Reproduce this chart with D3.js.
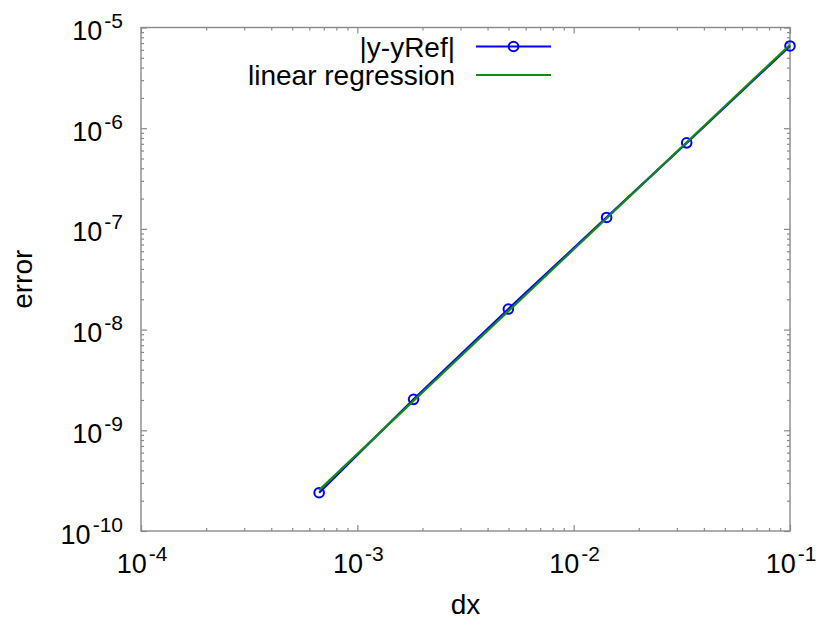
<!DOCTYPE html>
<html>
<head>
<meta charset="utf-8">
<script src="https://cdn.jsdelivr.net/npm/d3@7"></script>
<style>
  html, body { margin: 0; padding: 0; background: #fff; }
  svg { display: block; }
  text { font-family: "Liberation Sans", Arial, Helvetica, sans-serif; fill: #000; }
</style>
</head>
<body>
<svg id="chart" width="816" height="622"></svg>
<script>
// Step sizes and measured errors
const dxValues = [0.000666, 0.00182, 0.00499, 0.0142, 0.0333, 0.1];
const errorValues = [2.40e-10, 2.03e-9, 1.60e-8, 1.30e-7, 7.15e-7, 6.56e-6];

// Axis decades (exponents of 10)
const xTickExponents = [-4, -3, -2, -1];
const yTickExponents = [-10, -9, -8, -7, -6, -5];

const seriesNames = ["|y-yRef|", "linear regression"];
const axisTitles = { x: "dx", y: "error" };

const W = 816, H = 622;
const margin = { left: 141, right: 26, top: 27.5, bottom: 91 };
const plotL = margin.left, plotR = W - margin.right;
const plotT = margin.top, plotB = H - margin.bottom;

const svg = d3.select("#chart");

const x = d3.scaleLog().domain([1e-4, 1e-1]).range([plotL, plotR]);
const y = d3.scaleLog().domain([1e-10, 1e-5]).range([plotB, plotT]);

const FONT = 28, TICK_FONT = 27, SUP = 21;
const axisColor = "#8a8a8a";

// minor tick values on a log axis: 2..9 times each decade
function minorTicks(exps) {
  const out = [];
  for (let i = 0; i < exps.length - 1; i++) {
    for (let k = 2; k <= 9; k++) out.push(k * Math.pow(10, exps[i]));
  }
  return out;
}
const xMajor = xTickExponents.map(e => Math.pow(10, e));
const yMajor = yTickExponents.map(e => Math.pow(10, e));

const axes = svg.append("g").attr("class", "axes");

// ticks via d3 axes, mirrored on all four sides, pointing inward
function drawAxis(gen, transform) {
  const g = axes.append("g").attr("transform", transform).call(gen);
  g.select(".domain").remove();
  g.selectAll("text").remove();
  g.selectAll("line").attr("stroke", axisColor).attr("stroke-width", 1.2);
  return g;
}
const MAJ = 6, MIN = 3;
drawAxis(d3.axisBottom(x).tickValues(xMajor).tickSize(-MAJ), `translate(0,${plotB})`);
drawAxis(d3.axisBottom(x).tickValues(minorTicks(xTickExponents)).tickSize(-MIN), `translate(0,${plotB})`);
drawAxis(d3.axisTop(x).tickValues(xMajor).tickSize(-MAJ), `translate(0,${plotT})`);
drawAxis(d3.axisTop(x).tickValues(minorTicks(xTickExponents)).tickSize(-MIN), `translate(0,${plotT})`);
drawAxis(d3.axisLeft(y).tickValues(yMajor).tickSize(-MAJ), `translate(${plotL},0)`);
drawAxis(d3.axisLeft(y).tickValues(minorTicks(yTickExponents)).tickSize(-MIN), `translate(${plotL},0)`);
drawAxis(d3.axisRight(y).tickValues(yMajor).tickSize(-MAJ), `translate(${plotR},0)`);
drawAxis(d3.axisRight(y).tickValues(minorTicks(yTickExponents)).tickSize(-MIN), `translate(${plotR},0)`);

// frame
axes.append("rect")
  .attr("x", plotL).attr("y", plotT)
  .attr("width", plotR - plotL).attr("height", plotB - plotT)
  .attr("fill", "none").attr("stroke", axisColor).attr("stroke-width", 1.4);

// power-of-ten labels: "10" with raised exponent
function powerLabel(sel, exp) {
  sel.append("tspan").attr("font-size", TICK_FONT).text("10");
  sel.append("tspan").attr("font-size", SUP).attr("dx", 2).attr("dy", -12).text(exp);
}
svg.append("g").selectAll("text").data(xTickExponents).join("text")
  .attr("x", d => x(Math.pow(10, d)) + 1)
  .attr("y", plotB + 41.5)
  .attr("text-anchor", "middle")
  .each(function (d) { powerLabel(d3.select(this), d); });

svg.append("g").selectAll("text").data(yTickExponents).join("text")
  .attr("x", plotL - 18)
  .attr("y", d => y(Math.pow(10, d)) + 12.5)
  .attr("text-anchor", "end")
  .each(function (d) { powerLabel(d3.select(this), d); });

// axis titles
svg.append("text")
  .attr("x", (plotL + plotR) / 2).attr("y", 614)
  .attr("text-anchor", "middle").attr("font-size", FONT)
  .text(axisTitles.x);
svg.append("text")
  .attr("transform", `translate(32,${(plotT + plotB) / 2}) rotate(-90)`)
  .attr("text-anchor", "middle").attr("font-size", FONT)
  .text(axisTitles.y);

// least-squares fit of log10(error) against log10(dx)
const lx = dxValues.map(Math.log10), ly = errorValues.map(Math.log10);
const mx = d3.mean(lx), my = d3.mean(ly);
const slope = d3.sum(lx, (v, i) => (v - mx) * (ly[i] - my)) / d3.sum(lx, v => (v - mx) ** 2);
const intercept = my - slope * mx;
const fitX = d3.extent(dxValues);
const fitPts = fitX.map(v => [v, Math.pow(10, intercept + slope * Math.log10(v))]);

const blue = "#0000ff", green = "#138a13";
const line = d3.line().x(d => x(d[0])).y(d => y(d[1]));
const data = dxValues.map((v, i) => [v, errorValues[i]]);

const plot = svg.append("g");
plot.append("path").datum(data).attr("d", line)
  .attr("fill", "none").attr("stroke", blue).attr("stroke-width", 2.2);
plot.selectAll("circle").data(data).join("circle")
  .attr("cx", d => x(d[0])).attr("cy", d => y(d[1])).attr("r", 4.8)
  .attr("fill", "none").attr("stroke", blue).attr("stroke-width", 2);
plot.append("path").datum(fitPts).attr("d", line)
  .attr("fill", "none").attr("stroke", green).attr("stroke-width", 2.2);

// legend
const legend = svg.append("g");
const legRows = [46.5, 75];
legend.selectAll("text").data(seriesNames).join("text")
  .attr("x", 455).attr("y", (d, i) => legRows[i] + 10)
  .attr("text-anchor", "end").attr("font-size", FONT)
  .text(d => d);
legend.append("line").attr("x1", 476).attr("x2", 551)
  .attr("y1", legRows[0]).attr("y2", legRows[0])
  .attr("stroke", blue).attr("stroke-width", 2.2);
legend.append("circle").attr("cx", 513.5).attr("cy", legRows[0]).attr("r", 4.8)
  .attr("fill", "none").attr("stroke", blue).attr("stroke-width", 2);
legend.append("line").attr("x1", 476).attr("x2", 551)
  .attr("y1", legRows[1]).attr("y2", legRows[1])
  .attr("stroke", green).attr("stroke-width", 2.2);
</script>
</body>
</html>
